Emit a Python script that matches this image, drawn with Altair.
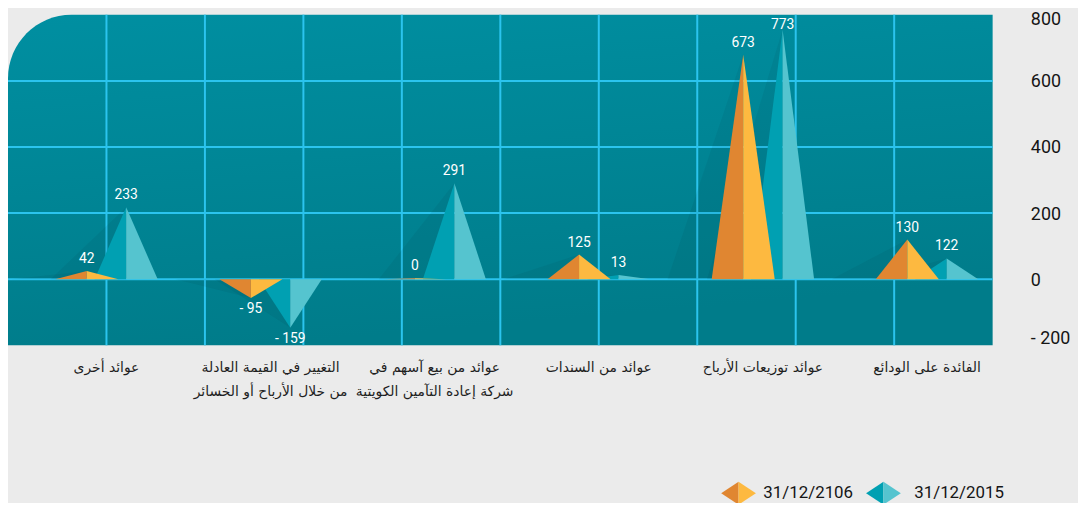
import altair as alt
import pandas as pd

# ---------------- data ----------------
CATEGORIES = [
    "عوائد أخرى",
    "التغيير في القيمة العادلة\nمن خلال الأرباح أو الخسائر",
    "عوائد من بيع آسهم في\nشركة إعادة التآمين الكويتية",
    "عوائد من السندات",
    "عوائد توزيعات الأرباح",
    "الفائدة على الودائع",
]
SERIES = ["31/12/2106", "31/12/2015"]
# printed values
LABELS_2016 = [42, -95, 0, 125, 673, 130]
LABELS_2015 = [233, -159, 291, 13, 773, 122]
# apex heights as drawn in the reference picture
HEIGHTS_2016 = [25, -57, 3, 75, 679, 120]
HEIGHTS_2015 = [218, -147, 290, 13, 755, 63]
Y_TICKS = [-200, 0, 200, 400, 600, 800]
GRID_Y = [0, 200, 400, 600]
GRID_X = [1, 2, 3, 4, 5, 6, 7, 8, 9]

# ---------------- layout / style ----------------
W, H = 992, 333
SLOT_START, SLOT_STEP = 1.0, 5 / 3
OFFSET, HALF = 0.2, 0.32
COLORS = {
    SERIES[0]: ("#E08631", "#FDB940"),
    SERIES[1]: ("#00A0B2", "#55C4CF"),
}
GRID_COLOR = "#2BC4EE"
NUM_FONT = "Roboto"
AR_FONT = "DejaVu Sans"

xs = alt.Scale(domain=[0, 10], nice=False, zero=False)
ys = alt.Scale(domain=[-200, 800], nice=False, zero=False)

yaxis = alt.Axis(
    values=Y_TICKS, orient="right", ticks=False, domain=False, grid=False,
    labelPadding=38, labelAlign="left", labelBaseline="middle", labelFlush=False,
    labelFont=NUM_FONT, labelFontSize=18, labelColor="#151515", title=None,
    labelOffset={"condition": [{"test": "datum.value < 0", "value": -7},
                               {"test": "datum.value >= 800", "value": 4.5}],
                 "value": 1},
    labelExpr="datum.value < 0 ? '- ' + format(-datum.value, 'd') : format(datum.value, 'd')",
)


def X(f):
    return alt.X(f, type="quantitative", scale=xs, axis=None)


def Y(f):
    return alt.Y(f, type="quantitative", scale=ys, axis=yaxis)


tri_rows, shadow_rows, label_rows = [], [], []
for s, (name, heights, labels) in enumerate(
    [(SERIES[0], HEIGHTS_2016, LABELS_2016), (SERIES[1], HEIGHTS_2015, LABELS_2015)]
):
    for i, cat in enumerate(CATEGORIES):
        cx = SLOT_START + i * SLOT_STEP + (-OFFSET if s == 0 else OFFSET)
        v = heights[i]
        pid = f"{s}-{i}"
        tri_rows += [
            dict(series=name, poly=pid + "L", part=name + "d", x=cx - HALF, y=0, y0=0),
            dict(series=name, poly=pid + "L", part=name + "d", x=cx, y=v, y0=0),
            dict(series=name, poly=pid + "R", part=name + "l", x=cx, y=v, y0=0),
            dict(series=name, poly=pid + "R", part=name + "l", x=cx + HALF, y=0, y0=0),
        ]
        shadow_rows += [
            dict(poly=pid, x=cx - 2.4 * HALF, y=0, y0=0),
            dict(poly=pid, x=cx, y=v, y0=0),
        ]
        lab = labels[i]
        label_rows.append(dict(
            x=cx, y=v, text=("- " + str(-lab)) if lab < 0 else str(lab), neg=lab < 0
        ))

tri = pd.DataFrame(tri_rows)
shadows = pd.DataFrame(shadow_rows)
vlabels = pd.DataFrame(label_rows)
cats = pd.DataFrame({
    "x": [SLOT_START + i * SLOT_STEP for i in range(len(CATEGORIES))],
    "text": CATEGORIES,
})

# background panel with a rounded top-left corner
bg = alt.Chart(pd.DataFrame({"a": [0]})).mark_rect(
    cornerRadiusTopLeft=64,
    color=alt.Gradient(
        gradient="linear",
        stops=[alt.GradientStop(color="#008FA1", offset=0),
               alt.GradientStop(color="#007C8A", offset=1)],
        x1=0, x2=0.25, y1=0, y2=1,
    ),
).encode(x=alt.value(0), x2=alt.value(W), y=alt.value(0), y2=alt.value(H))

hgrid = alt.Chart(pd.DataFrame({"y": GRID_Y})).mark_rule(
    color=GRID_COLOR, strokeWidth=2
).encode(y=Y("y"))
vgrid = alt.Chart(pd.DataFrame({"x": GRID_X})).mark_rule(
    color=GRID_COLOR, strokeWidth=2
).encode(x=X("x"))

shadow = alt.Chart(shadows).mark_area(
    color="#00303A", opacity=0.08, clip=True
).encode(x=X("x"), y=Y("y"), y2="y0:Q", detail="poly:N")

part_domain = [SERIES[0] + "d", SERIES[0] + "l", SERIES[1] + "d", SERIES[1] + "l"]
part_range = [COLORS[SERIES[0]][0], COLORS[SERIES[0]][1],
              COLORS[SERIES[1]][0], COLORS[SERIES[1]][1]]


def tri_layer(name):
    return alt.Chart(tri).transform_filter(
        alt.datum.series == name
    ).mark_area(opacity=1, clip=True).encode(
        x=X("x"), y=Y("y"), y2="y0:Q", detail="poly:N",
        color=alt.Color("part:N", scale=alt.Scale(domain=part_domain, range=part_range),
                        legend=None),
    )


teal = tri_layer(SERIES[1])
orange = tri_layer(SERIES[0])

# value labels: about 12 px above positive apexes (kept inside the panel),
# about 11 px below negative apexes
value_labels = alt.Chart(vlabels).transform_calculate(
    ly="datum.neg ? datum.y - 33 : min(datum.y + 36, 768)"
).mark_text(
    color="white", font=NUM_FONT, fontSize=14, baseline="middle"
).encode(x=X("x"), y=Y("ly"), text="text:N")

cat_text = alt.Chart(cats).mark_text(
    font=AR_FONT, fontSize=14, color="#1E1E1E", lineBreak="\n",
    baseline="middle", align="center", lineHeight=24,
).encode(x=X("x"), y=alt.value(H + 23), text="text:N")

# legend (drawn manually: two-tone diamonds)
LEFT_HALF = "M-1,0L0,-0.66L0,0.66Z"
RIGHT_HALF = "M0,-0.66L1,0L0,0.66Z"
DIAMOND_X = [736, 882]
TEXT_X = [761, 913]
LEG_Y = 482
legend_layers = []
for k, name in enumerate(SERIES):
    dark, light = COLORS[name]
    for path, col in [(LEFT_HALF, dark), (RIGHT_HALF, light)]:
        legend_layers.append(
            alt.Chart(pd.DataFrame({"a": [0]})).mark_point(
                shape=path, filled=True, size=35 * 35, color=col, opacity=1, strokeWidth=0
            ).encode(x=alt.value(DIAMOND_X[k]), y=alt.value(LEG_Y))
        )
    legend_layers.append(
        alt.Chart(pd.DataFrame({"t": [name]})).mark_text(
            font=NUM_FONT, fontSize=17, color="#151515", align="left", baseline="middle"
        ).encode(x=alt.value(TEXT_X[k]), y=alt.value(LEG_Y), text="t:N")
    )

chart = alt.layer(
    bg, hgrid, vgrid, shadow, teal, orange, value_labels, cat_text,
    *legend_layers
).properties(
    width=W, height=H, background="#EBEBEB",
    padding={"left": 0, "top": 5, "right": 86, "bottom": 157},
    autosize=alt.AutoSizeParams(type="none"),
).configure_view(stroke=None)

chart.save("out.html", embed_options={"renderer": "svg", "actions": False})
